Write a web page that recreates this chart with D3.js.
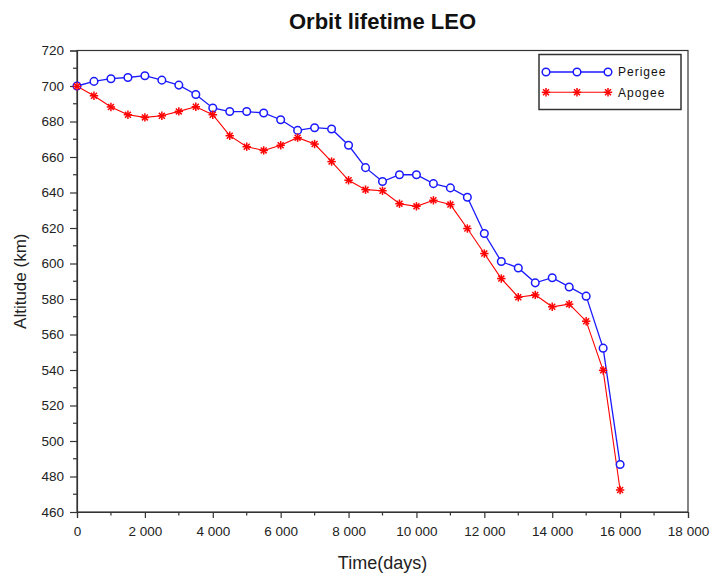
<!DOCTYPE html>
<html>
<head>
<meta charset="utf-8">
<script src="https://cdn.jsdelivr.net/npm/d3@7"></script>
<style>
  html, body { margin: 0; padding: 0; background: #fff; }
  text { font-family: "Liberation Sans", Arial, Helvetica, sans-serif; }
</style>
</head>
<body>
<svg id="chart" width="712" height="574"></svg>
<script>
const days = [0, 500, 1000, 1500, 2000, 2500, 3000, 3500, 4000, 4500, 5000, 5500, 6000, 6500, 7000, 7500,
  8000, 8500, 9000, 9500, 10000, 10500, 11000, 11500, 12000, 12500, 13000, 13500, 14000, 14500, 15000, 15500, 16000];
const perigee = [700, 702.6, 704.1, 704.8, 705.8, 703.3, 700.5, 695.2, 687.6, 685.6, 685.6, 684.8, 681, 675, 676.5, 675.8,
  666.6, 654, 646.2, 650, 650, 645, 642.6, 637.3, 616.9, 601.1, 597.5, 589.1, 592, 586.8, 581.6, 552.3, 486.8];
const apogee = [699.8, 694.5, 688.2, 683.8, 682.3, 683.2, 685.7, 688.3, 683.8, 672, 665.8, 663.7, 666.6, 670.9, 667.3, 657.4,
  646.9, 641.6, 641, 633.7, 632.2, 635.6, 633.2, 619.7, 605.6, 591.5, 581, 582.3, 575.6, 577.1, 567.5, 539.8, 472.4];
const xTicks = [0, 2000, 4000, 6000, 8000, 10000, 12000, 14000, 16000, 18000];
const yTicks = [460, 480, 500, 520, 540, 560, 580, 600, 620, 640, 660, 680, 700, 720];
const seriesNames = ["Perigee", "Apogee"];
const titleText = "Orbit lifetime LEO";
const xLabel = "Time(days)";
const yLabel = "Altitude (km)";

const svg = d3.select("#chart");
const L = 77, R = 688, T = 50.5, B = 512;
const x = d3.scaleLinear().domain([0, 18000]).range([L, R]);
const y = d3.scaleLinear().domain([460, 720]).range([B, T]);
const axisColor = "#333";

const fmtX = v => {
  if (v < 1000) return String(v);
  const s = String(v);
  return s.slice(0, s.length - 3) + " " + s.slice(-3);
};

// frame
svg.append("rect").attr("x", L).attr("y", T).attr("width", R - L).attr("height", B - T)
  .attr("fill", "none").attr("stroke", axisColor).attr("stroke-width", 1.2);

// x axis
const xAxis = d3.axisBottom(x).tickValues(xTicks).tickFormat(fmtX).tickSize(6).tickPadding(8);
const gx = svg.append("g").attr("transform", `translate(0,${B})`).call(xAxis);
gx.select(".domain").attr("stroke", axisColor).attr("stroke-width", 1.2);
gx.selectAll(".tick line").attr("stroke", axisColor).attr("stroke-width", 1.2);
gx.selectAll(".tick text").attr("font-size", 13.5).attr("fill", "#222")
  .attr("font-family", "'Liberation Sans', Arial, sans-serif");
const xMinor = d3.range(1000, 18000, 2000);
svg.append("g").selectAll("line").data(xMinor).join("line")
  .attr("x1", d => x(d)).attr("x2", d => x(d)).attr("y1", B).attr("y2", B + 3.5)
  .attr("stroke", axisColor).attr("stroke-width", 1.2);

// y axis
const yAxis = d3.axisLeft(y).tickValues(yTicks).tickSize(7).tickPadding(6);
const gy = svg.append("g").attr("transform", `translate(${L},0)`).call(yAxis);
gy.select(".domain").attr("stroke", axisColor).attr("stroke-width", 1.2);
gy.selectAll(".tick line").attr("stroke", axisColor).attr("stroke-width", 1.2);
gy.selectAll(".tick text").attr("font-size", 13.5).attr("fill", "#222")
  .attr("font-family", "'Liberation Sans', Arial, sans-serif");
const yMinor = d3.range(470, 720, 20);
svg.append("g").selectAll("line").data(yMinor).join("line")
  .attr("x1", L - 4).attr("x2", L).attr("y1", d => y(d)).attr("y2", d => y(d))
  .attr("stroke", axisColor).attr("stroke-width", 1.2);

// title & labels
svg.append("text").attr("x", (L + R) / 2).attr("y", 29).attr("text-anchor", "middle")
  .attr("font-size", 22).attr("font-weight", "bold").attr("fill", "#111").text(titleText);
svg.append("text").attr("x", (L + R) / 2).attr("y", 569).attr("text-anchor", "middle")
  .attr("font-size", 18).attr("fill", "#222").text(xLabel);
svg.append("text").attr("transform", `translate(26,${(T + B) / 2}) rotate(-90)`)
  .attr("text-anchor", "middle").attr("font-size", 17).attr("fill", "#222").text(yLabel);

// lines
const line = d3.line().x((d, i) => x(days[i])).y(d => y(d));
const blue = "#1a1aff", red = "#ff0000";
svg.append("path").datum(perigee).attr("d", line).attr("fill", "none").attr("stroke", blue).attr("stroke-width", 1.3);
svg.append("path").datum(apogee).attr("d", line).attr("fill", "none").attr("stroke", red).attr("stroke-width", 1.1);

function star(g, cx, cy) {
  const r = 4.2;
  const s = g.append("g").attr("transform", `translate(${cx},${cy})`);
  [0, 45, 90, 135].forEach(a => {
    const rad = a * Math.PI / 180;
    s.append("line").attr("x1", -r * Math.cos(rad)).attr("y1", -r * Math.sin(rad))
      .attr("x2", r * Math.cos(rad)).attr("y2", r * Math.sin(rad))
      .attr("stroke", red).attr("stroke-width", 1.5);
  });
}

// markers
svg.append("g").selectAll("circle").data(perigee).join("circle")
  .attr("cx", (d, i) => x(days[i])).attr("cy", d => y(d)).attr("r", 3.8)
  .attr("fill", "#fff").attr("stroke", blue).attr("stroke-width", 1.5);
const gs = svg.append("g");
apogee.forEach((d, i) => star(gs, x(days[i]), y(d)));

// legend
const lg = svg.append("g");
lg.append("rect").attr("x", 539).attr("y", 54.5).attr("width", 142).attr("height", 55)
  .attr("fill", "#fff").attr("stroke", axisColor).attr("stroke-width", 1.5);
const ly = [72, 92.3];
lg.append("line").attr("x1", 546).attr("x2", 608).attr("y1", ly[0]).attr("y2", ly[0]).attr("stroke", blue).attr("stroke-width", 1.3);
[546, 577, 608].forEach(cx => lg.append("circle").attr("cx", cx).attr("cy", ly[0]).attr("r", 3.8)
  .attr("fill", "#fff").attr("stroke", blue).attr("stroke-width", 1.5));
lg.append("line").attr("x1", 546).attr("x2", 608).attr("y1", ly[1]).attr("y2", ly[1]).attr("stroke", red).attr("stroke-width", 1.1);
[546, 577, 608].forEach(cx => star(lg, cx, ly[1]));
seriesNames.forEach((n, i) => lg.append("text").attr("x", 618).attr("y", ly[i] + 4.3)
  .attr("font-size", 12).attr("letter-spacing", 1).attr("fill", "#111").text(n));
</script>
</body>
</html>
